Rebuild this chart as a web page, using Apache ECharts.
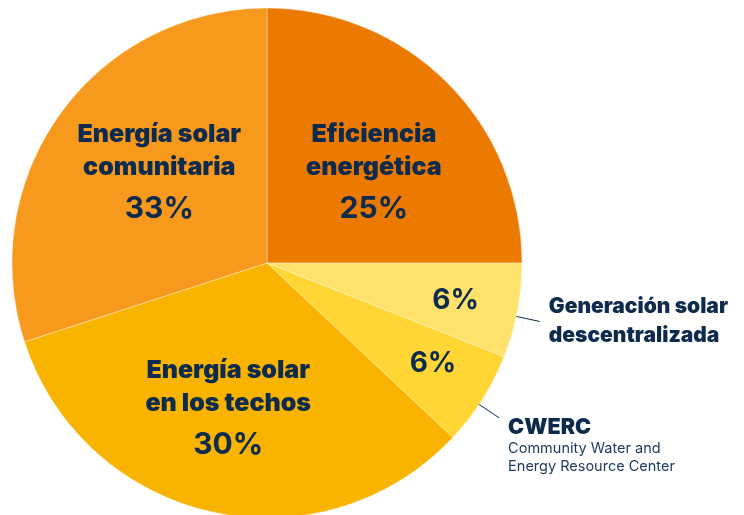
<!DOCTYPE html>
<html>
<head>
<meta charset="utf-8">
<script src="https://cdn.jsdelivr.net/npm/echarts@6/dist/echarts.min.js"></script>
<style>
  html, body { margin: 0; padding: 0; background: #fff; overflow: hidden; }
  #chart { width: 731px; height: 515px; }
</style>
</head>
<body>
<div id="chart"></div>
<script>
// slice order runs clockwise from 12 o'clock
const categories = [
  'Eficiencia\nenergética',
  'Generación solar\ndescentralizada',
  'CWERC',
  'Energía solar\nen los techos',
  'Energía solar\ncomunitaria'
]
// slice sizes as drawn in the picture
const sliceValues = [25, 6, 6, 33, 30]
// percentages as printed on the slices
const percentLabels = ['25%', '6%', '6%', '30%', '33%']
const calloutNotes = ['', '', 'Community Water and\nEnergy Resource Center', '', '']

const colors = ['#EC7A00', '#FFE26B', '#FFD633', '#F8B400', '#F7991D']
const navy = '#0E2A4C'
const fontFamily = 'Inter, Lato, sans-serif'

const bigSlices = [0, 3, 4]
const smallSlices = [1, 2]

// small offsets so labels sit where the original puts them
const labelNudge = { 0: [4, 16], 3: [-7, 7], 4: [10, -1] }
const smallNudge = { 1: [-1, 1], 2: [3, -3] }

const chart = echarts.init(document.getElementById('chart'))

const base = {
  type: 'pie',
  center: [267, 263],
  startAngle: 90,
  clockwise: true,
  silent: true,
  avoidLabelOverlap: false,
  animation: false,
  emphasis: { disabled: true }
}

const option = {
  series: [
    {
      ...base,
      radius: 255,
      label: { show: false },
      labelLine: { show: false },
      data: sliceValues.map((v, i) => ({
        value: v,
        name: categories[i],
        itemStyle: { color: colors[i], borderColor: 'rgba(255,255,255,0.35)', borderWidth: 1 }
      }))
    },
    {
      ...base,
      radius: [30, 255],
      itemStyle: { color: 'transparent' },
      label: {
        position: 'inside',
        overflow: 'none',
        formatter: p => `{n|${p.name.replace('\n', '}\n{n|')}}\n{p|${percentLabels[p.dataIndex]}}`,
        rich: {
          n: { fontFamily, fontSize: 25, fontWeight: 900, color: navy, lineHeight: 33, align: 'center' },
          p: { fontFamily, fontSize: 30, fontWeight: 700, color: navy, lineHeight: 51, align: 'center' }
        }
      },
      labelLine: { show: false },
      labelLayout: params => {
        const n = labelNudge[params.dataIndex]
        return n ? { dx: n[0], dy: n[1] } : {}
      },
      data: sliceValues.map((v, i) => ({
        value: v,
        name: categories[i],
        label: { show: bigSlices.includes(i) }
      }))
    },
    {
      ...base,
      radius: [125, 255],
      itemStyle: { color: 'transparent' },
      label: {
        position: 'inside',
        overflow: 'none',
        formatter: p => percentLabels[p.dataIndex],
        fontFamily, fontSize: 28, fontWeight: 700, color: navy
      },
      labelLine: { show: false },
      labelLayout: params => {
        const n = smallNudge[params.dataIndex]
        return n ? { dx: n[0], dy: n[1] } : {}
      },
      data: sliceValues.map((v, i) => ({
        value: v,
        name: categories[i],
        label: { show: smallSlices.includes(i) }
      }))
    },
    {
      ...base,
      radius: 241,
      startAngle: 88.7,
      itemStyle: { color: 'transparent' },
      label: {
        position: 'outside',
        overflow: 'none',
        alignTo: 'none',
        distanceToLabelLine: 9,
        formatter: p => {
          const note = calloutNotes[p.dataIndex]
          if (note) {
            return `{c|${p.name}}\n` + note.split('\n').map(t => `{s|${t}}`).join('\n')
          }
          return p.name.split('\n').map(t => `{t|${t}}`).join('\n')
        },
        rich: {
          t: { fontFamily, fontSize: 21, fontWeight: 900, color: navy, lineHeight: 29 },
          c: { fontFamily, fontSize: 21.5, fontWeight: 900, color: navy, lineHeight: 24 },
          s: { fontFamily, fontSize: 14.5, color: '#1D3A5E', lineHeight: 18 }
        }
      },
      labelLine: {
        length: 38,
        length2: 0,
        lineStyle: { color: navy, width: 1 }
      },
      data: sliceValues.map((v, i) => ({
        value: v,
        name: categories[i],
        label: calloutNotes[i] ? { show: true, padding: [56, 0, 0, 0] } : { show: smallSlices.includes(i) },
        labelLine: { show: smallSlices.includes(i) }
      }))
    }
  ]
}

chart.setOption(option)
window.addEventListener('resize', () => chart.resize())
</script>
</body>
</html>
